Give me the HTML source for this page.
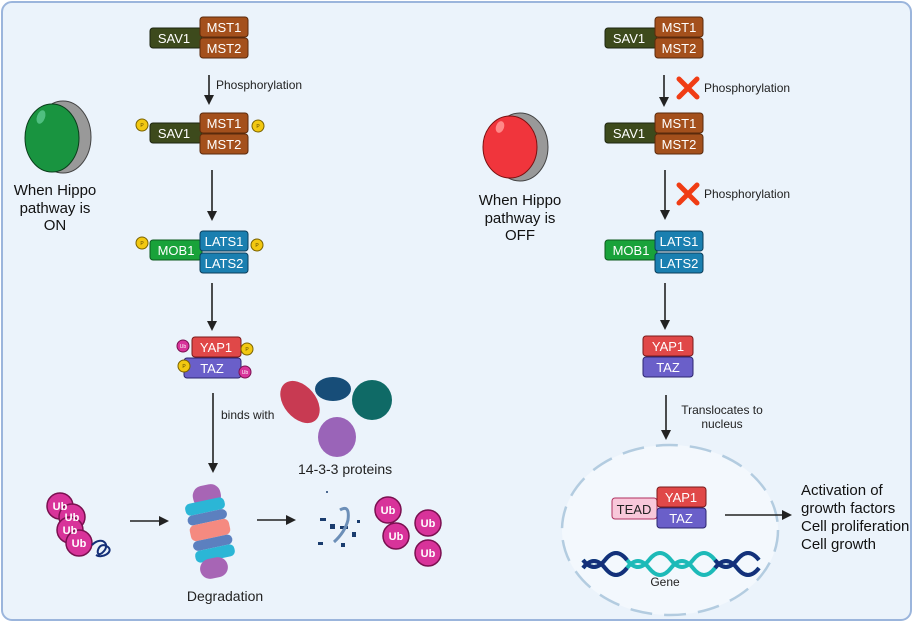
<!DOCTYPE html>
<html><head><meta charset="utf-8"><style>
html,body{margin:0;padding:0;background:#fff;}
svg{display:block;font-family:"Liberation Sans",sans-serif;}
</style></head><body>
<svg width="913" height="623" viewBox="0 0 913 623" xmlns="http://www.w3.org/2000/svg">
<defs>
<marker id="ah" markerWidth="10" markerHeight="10" refX="8" refY="5" orient="auto" markerUnits="userSpaceOnUse"><path d="M0,0 L10,5 L0,10 z" fill="#222"/></marker>
</defs>
<rect x="2" y="2" width="909" height="618" rx="10" fill="#ebf3fb" stroke="#9bb5dc" stroke-width="2"/>
<g font-size="13" fill="#fff" text-anchor="middle">
<rect x="150" y="28" width="52" height="20" rx="3" fill="#3d4a1c" stroke="#1d2510"/>
<text x="174" y="43">SAV1</text>
<rect x="200" y="17" width="48" height="20" rx="3" fill="#a4501c" stroke="#5a2a0c"/>
<text x="224" y="32">MST1</text>
<rect x="200" y="38" width="48" height="20" rx="3" fill="#a4501c" stroke="#5a2a0c"/>
<text x="224" y="53">MST2</text>
<rect x="150" y="123" width="52" height="20" rx="3" fill="#3d4a1c" stroke="#1d2510"/>
<text x="174" y="138">SAV1</text>
<rect x="200" y="113" width="48" height="20" rx="3" fill="#a4501c" stroke="#5a2a0c"/>
<text x="224" y="128">MST1</text>
<rect x="200" y="134" width="48" height="20" rx="3" fill="#a4501c" stroke="#5a2a0c"/>
<text x="224" y="149">MST2</text>
<rect x="150" y="240" width="52" height="20" rx="3" fill="#19a23a" stroke="#0d5a1e"/>
<text x="176" y="255">MOB1</text>
<rect x="200" y="231" width="48" height="20" rx="3" fill="#1a7fb0" stroke="#0b3d5a"/>
<text x="224" y="246">LATS1</text>
<rect x="200" y="253" width="48" height="20" rx="3" fill="#1a7fb0" stroke="#0b3d5a"/>
<text x="224" y="268">LATS2</text>
<rect x="192" y="337" width="49" height="20" rx="3" fill="#e04848" stroke="#7a1a1a"/>
<text x="216" y="352">YAP1</text>
<rect x="184" y="358" width="57" height="20" rx="3" fill="#6a5fc9" stroke="#2c2670"/>
<text x="212" y="373">TAZ</text>
</g>
<g fill="#f2c811" stroke="#7a6200" stroke-width="1">
<circle cx="142" cy="125" r="6"/><circle cx="258" cy="126" r="6"/>
<circle cx="142" cy="243" r="6"/><circle cx="257" cy="245" r="6"/>
<circle cx="247" cy="349" r="6"/><circle cx="184" cy="366" r="6"/>
</g>
<g font-size="5" fill="#5a4500" text-anchor="middle">
<text x="142" y="127">P</text><text x="258" y="128">P</text><text x="142" y="245">P</text><text x="257" y="247">P</text><text x="247" y="351">P</text><text x="184" y="368">P</text>
</g>
<g fill="#d8339a" stroke="#7a1050"><circle cx="183" cy="346" r="6"/><circle cx="245" cy="372" r="6"/></g>
<g font-size="5" fill="#fff" text-anchor="middle"><text x="183" y="348">Ub</text><text x="245" y="374">Ub</text></g>
<g stroke="#222" stroke-width="1.6" marker-end="url(#ah)">
<line x1="209" y1="75" x2="209" y2="103"/>
<line x1="212" y1="170" x2="212" y2="219"/>
<line x1="212" y1="283" x2="212" y2="329"/>
<line x1="213" y1="393" x2="213" y2="471"/>
<line x1="130" y1="521" x2="167" y2="521"/>
<line x1="257" y1="520" x2="294" y2="520"/>
</g>
<g font-size="12" fill="#222">
<text x="216" y="89">Phosphorylation</text>
<text x="221" y="419">binds with</text>
</g>
<text x="298" y="474" font-size="14" fill="#222">14-3-3 proteins</text>
<text x="225" y="601" font-size="14" fill="#222" text-anchor="middle">Degradation</text>
<ellipse cx="300" cy="402" rx="16" ry="24" transform="rotate(-40 300 402)" fill="#c83a52"/>
<ellipse cx="333" cy="389" rx="18" ry="12" fill="#174d78"/>
<ellipse cx="372" cy="400" rx="20" ry="20" fill="#0f6a66"/>
<ellipse cx="337" cy="437" rx="19" ry="20" fill="#9a64b8"/>
<g fill="#d8339a" stroke="#7a1050" stroke-width="1.5">
<circle cx="60" cy="506" r="13"/><circle cx="72" cy="517" r="13"/><circle cx="70" cy="530" r="13"/><circle cx="79" cy="543" r="13"/>
<circle cx="388" cy="510" r="13"/><circle cx="428" cy="523" r="13"/><circle cx="396" cy="536" r="13"/><circle cx="428" cy="553" r="13"/>
</g>
<g font-size="11" font-weight="bold" fill="#fff" text-anchor="middle">
<text x="60" y="510">Ub</text><text x="72" y="521">Ub</text><text x="70" y="534">Ub</text><text x="79" y="547">Ub</text>
<text x="388" y="514">Ub</text><text x="428" y="527">Ub</text><text x="396" y="540">Ub</text><text x="428" y="557">Ub</text>
</g>
<path d="M92,545 c10,-10 20,0 10,8 c-8,6 -4,-14 6,-6 c6,5 -6,12 -12,8" fill="none" stroke="#142f78" stroke-width="2"/>
<g transform="rotate(-12 210 530)">
<rect x="200" y="485" width="28" height="22" rx="10" fill="#a765b5"/>
<rect x="190" y="500" width="40" height="12" rx="5" fill="#2bb6d6"/>
<rect x="190" y="512" width="40" height="10" rx="5" fill="#5c80bf"/>
<rect x="190" y="522" width="40" height="16" rx="5" fill="#f58a80"/>
<rect x="190" y="538" width="40" height="10" rx="5" fill="#5c80bf"/>
<rect x="190" y="548" width="40" height="12" rx="5" fill="#2bb6d6"/>
<rect x="192" y="558" width="28" height="20" rx="10" fill="#a765b5"/>
</g>
<g fill="#1a3c6e">
<rect x="320" y="518" width="6" height="3"/><rect x="330" y="524" width="5" height="5"/><rect x="340" y="526" width="8" height="3"/><rect x="352" y="532" width="4" height="5"/><rect x="318" y="542" width="5" height="3"/><rect x="341" y="543" width="4" height="4"/><rect x="357" y="520" width="3" height="3"/><circle cx="327" cy="492" r="1"/>
</g>
<path d="M340,510 q10,-6 8,10 q-3,12 -14,22" fill="none" stroke="#6c8fb8" stroke-width="3"/>
<ellipse cx="63" cy="137" rx="28" ry="36" fill="#999" stroke="#444" stroke-width="1"/>
<ellipse cx="52" cy="138" rx="27" ry="34" fill="#199440" stroke="#0a3c1a" stroke-width="1"/>
<ellipse cx="41" cy="117" rx="4" ry="7" fill="#4fbf80" transform="rotate(20 41 117)"/>
<g font-size="15" fill="#111" text-anchor="middle">
<text x="55" y="195">When Hippo</text><text x="55" y="213">pathway is</text><text x="55" y="230">ON</text>
</g>
<ellipse cx="520" cy="147" rx="28" ry="34" fill="#999" stroke="#444" stroke-width="1"/>
<ellipse cx="510" cy="147" rx="27" ry="31" fill="#f0353c" stroke="#7a1010" stroke-width="1"/>
<ellipse cx="500" cy="127" rx="4" ry="6" fill="#f88" transform="rotate(20 500 127)"/>
<g font-size="15" fill="#111" text-anchor="middle">
<text x="520" y="205">When Hippo</text><text x="520" y="223">pathway is</text><text x="520" y="240">OFF</text>
</g>
<g font-size="13" fill="#fff" text-anchor="middle">
<rect x="605" y="28" width="52" height="20" rx="3" fill="#3d4a1c" stroke="#1d2510"/>
<text x="629" y="43">SAV1</text>
<rect x="655" y="17" width="48" height="20" rx="3" fill="#a4501c" stroke="#5a2a0c"/>
<text x="679" y="32">MST1</text>
<rect x="655" y="38" width="48" height="20" rx="3" fill="#a4501c" stroke="#5a2a0c"/>
<text x="679" y="53">MST2</text>
<rect x="605" y="123" width="52" height="20" rx="3" fill="#3d4a1c" stroke="#1d2510"/>
<text x="629" y="138">SAV1</text>
<rect x="655" y="113" width="48" height="20" rx="3" fill="#a4501c" stroke="#5a2a0c"/>
<text x="679" y="128">MST1</text>
<rect x="655" y="134" width="48" height="20" rx="3" fill="#a4501c" stroke="#5a2a0c"/>
<text x="679" y="149">MST2</text>
<rect x="605" y="240" width="52" height="20" rx="3" fill="#19a23a" stroke="#0d5a1e"/>
<text x="631" y="255">MOB1</text>
<rect x="655" y="231" width="48" height="20" rx="3" fill="#1a7fb0" stroke="#0b3d5a"/>
<text x="679" y="246">LATS1</text>
<rect x="655" y="253" width="48" height="20" rx="3" fill="#1a7fb0" stroke="#0b3d5a"/>
<text x="679" y="268">LATS2</text>
<rect x="643" y="336" width="50" height="20" rx="3" fill="#e04848" stroke="#7a1a1a"/>
<text x="668" y="351">YAP1</text>
<rect x="643" y="357" width="50" height="20" rx="3" fill="#6a5fc9" stroke="#2c2670"/>
<text x="668" y="372">TAZ</text>
</g>
<ellipse cx="670" cy="530" rx="108" ry="85" fill="#f3f8fd" stroke="#b3cce0" stroke-width="2.5" stroke-dasharray="22 12"/>
<g stroke="#222" stroke-width="1.6" marker-end="url(#ah)">
<line x1="664" y1="75" x2="664" y2="105"/>
<line x1="665" y1="170" x2="665" y2="218"/>
<line x1="665" y1="283" x2="665" y2="328"/>
<line x1="666" y1="395" x2="666" y2="438"/>
<line x1="725" y1="515" x2="790" y2="515"/>
</g>
<g stroke="#f03c14" stroke-width="5" stroke-linecap="round">
<path d="M679,79 L697,97 M697,79 L679,97"/>
<path d="M679,185 L697,203 M697,185 L679,203"/>
</g>
<g font-size="12" fill="#222">
<text x="704" y="92">Phosphorylation</text>
<text x="704" y="198">Phosphorylation</text>
<text x="722" y="414" text-anchor="middle">Translocates to</text>
<text x="722" y="428" text-anchor="middle">nucleus</text>
</g>
<rect x="612" y="498" width="45" height="21" rx="3" fill="#f8c8da" stroke="#b03060"/>
<text x="634" y="514" font-size="13" fill="#222" text-anchor="middle">TEAD</text>
<rect x="657" y="487" width="49" height="20" rx="3" fill="#e04848" stroke="#7a1a1a"/>
<text x="681" y="502" font-size="13" fill="#fff" text-anchor="middle">YAP1</text>
<rect x="657" y="508" width="49" height="20" rx="3" fill="#6a5fc9" stroke="#2c2670"/>
<text x="681" y="523" font-size="13" fill="#fff" text-anchor="middle">TAZ</text>
<path d="M583,568 q11,-14 22,0 t22,0 t22,0 t22,0 t22,0 t22,0 t22,0 t22,0" fill="none" stroke="#1dbab8" stroke-width="4"/>
<path d="M583,560 q11,14 22,0 t22,0 t22,0 t22,0 t22,0 t22,0 t22,0 t22,0" fill="none" stroke="#1dbab8" stroke-width="4"/>
<path d="M583,568 q11,-14 22,0 t22,0 M583,560 q11,14 22,0 t22,0 M715,568 q11,-14 22,0 t22,0 M715,560 q11,14 22,0 t22,0" fill="none" stroke="#14307a" stroke-width="4"/>
<text x="665" y="586" font-size="12" fill="#222" text-anchor="middle">Gene</text>
<g font-size="15" fill="#111">
<text x="801" y="495">Activation of</text>
<text x="801" y="513">growth factors</text>
<text x="801" y="531">Cell proliferation</text>
<text x="801" y="549">Cell growth</text>
</g>
</svg>
</body></html>
